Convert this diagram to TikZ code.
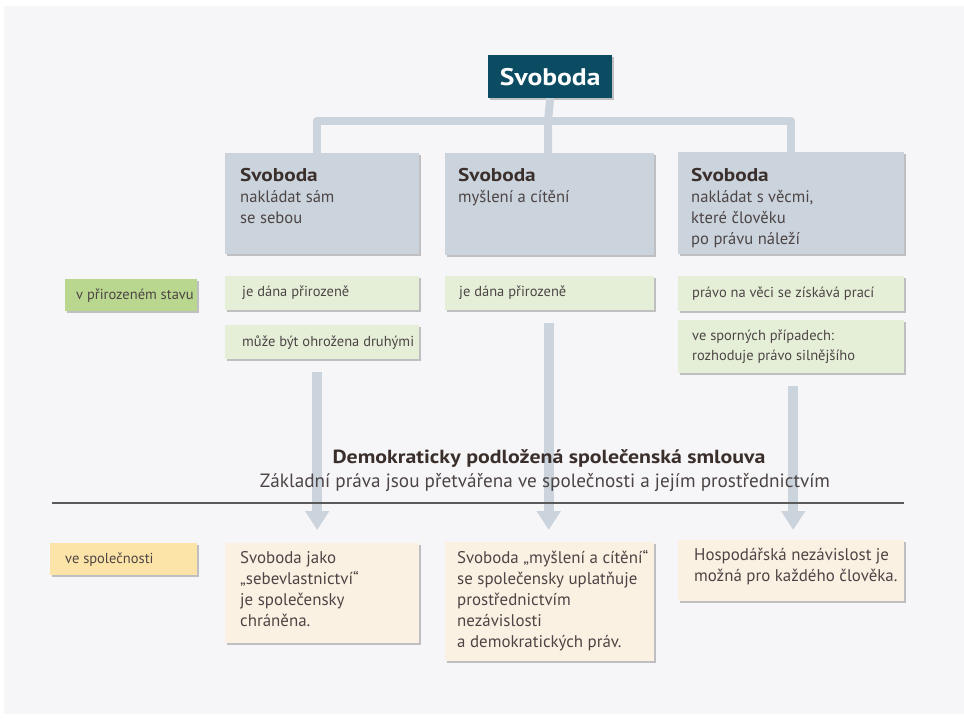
\documentclass[tikz,border=0pt]{standalone}
\usepackage{fontspec}
\setmainfont{PT Sans}
\newfontfamily\hdfont[FakeStretch=1.15]{PT Sans}
\usetikzlibrary{shadows,arrows.meta,calc}
\definecolor{bgc}{HTML}{F6F6F9}
\definecolor{teal}{HTML}{0B4C63}
\definecolor{gr}{HTML}{CBD3DD}
\definecolor{lgreen}{HTML}{E5EFD8}
\definecolor{dgreen}{HTML}{BAD78F}
\definecolor{yell}{HTML}{FCE3A8}
\definecolor{cream}{HTML}{FBF1E3}
\definecolor{tdark}{HTML}{3B2F2B}
\definecolor{tbody}{HTML}{4D4545}
\definecolor{rulec}{HTML}{5A5A5A}
\newcommand\myhd{\hdfont\fontsize{18.5}{21}\selectfont\bfseries\color{tdark}}
\begin{document}
\begin{tikzpicture}[x=1pt,y=-1pt,
  shd/.style={drop shadow={shadow xshift=1.5pt,shadow yshift=-2pt,opacity=0.22,fill=black}},
  box/.style={rectangle,draw=none,anchor=north west,inner sep=0pt,shd},
  txt/.style={inner sep=0pt,align=left,text=tbody,font={\fontsize{16.6}{21}\selectfont}},
  lbl/.style={inner sep=0pt,align=left,text=tbody,font={\fontsize{14.5}{20}\selectfont}},
  btxt/.style={inner sep=0pt,align=left,text=tbody,font={\fontsize{16.9}{21}\selectfont}},
  hd/.style={font={\hdfont\fontsize{19}{23}\selectfont\bfseries},text=tdark},
  tree/.style={draw=gr,line width=8pt,line join=round},
  bigarr/.style={draw=gr,line width=10pt,-{Triangle[width=23pt,length=19pt]}}
]
\useasboundingbox (0,0) rectangle (964,719);
\fill[white] (0,0) rectangle (964,719);
\fill[bgc] (4,6) rectangle (964,714);

% top node
\node[box,fill=teal,minimum width=124pt,minimum height=43pt,
      font={\hdfont\fontsize{24}{28}\selectfont\bfseries},text=white] (top) at (488,55) {Svoboda};

% three main boxes
\node[box,fill=gr,minimum width=194pt,minimum height=101pt] (b1) at (225,153) {};
\node[box,fill=gr,minimum width=209pt,minimum height=102pt] (b2) at (445,153) {};
\node[box,fill=gr,minimum width=226pt,minimum height=102pt] (b3) at (678,152) {};

\node[txt,anchor=north west] (t1) at ([xshift=15pt,yshift=-15pt]b1.north west)
  {{\myhd Svoboda}\\ nakládat sám\\ se sebou};
\node[txt,anchor=north west] (t2) at ([xshift=13pt,yshift=-15pt]b2.north west)
  {{\myhd Svoboda}\\ myšlení a cítění};
\node[txt,anchor=north west] (t3) at ([xshift=13pt,yshift=-16pt]b3.north west)
  {{\myhd Svoboda}\\ nakládat s věcmi,\\ které člověku\\ po právu náleží};

% tree connector
\coordinate (j) at (548,121);
\draw[tree] (top.south) -- (j) -- (j |- b2.north);
\draw[tree] (b1.north -| 317,0) |- (j) -| (b3.north -| 791,0);

% natural state row
\node[box,fill=dgreen,minimum width=132pt,minimum height=32pt] (ns) at (65,279) {};
\node[lbl,anchor=west] at ([xshift=11pt]ns.west) {v přirozeném stavu};

\node[box,fill=lgreen,minimum width=194pt,minimum height=34pt] (n1) at (225,276) {};
\node[lbl,anchor=west] at ([xshift=17pt]n1.west) {je dána přirozeně};
\node[box,fill=lgreen,minimum width=194pt,minimum height=34pt] (m1) at (225,325) {};
\node[lbl,anchor=west] at ([xshift=17pt]m1.west) {může být ohrožena druhými};

\node[box,fill=lgreen,minimum width=209pt,minimum height=34pt] (n2) at (445,276) {};
\node[lbl,anchor=west] at ([xshift=14pt]n2.west) {je dána přirozeně};

\node[box,fill=lgreen,minimum width=226pt,minimum height=35pt] (n3) at (678,276) {};
\node[lbl,anchor=west] at ([xshift=14pt]n3.west) {právo na věci se získává prací};
\node[box,fill=lgreen,minimum width=226pt,minimum height=53pt] (m3) at (678,320) {};
\node[lbl,anchor=west] at ([xshift=14pt]m3.west) {ve sporných případech:\\rozhoduje právo silnějšího};

% society row
\node[box,fill=yell,minimum width=147pt,minimum height=32pt] (sl) at (50,543) {};
\node[lbl,anchor=west] at ([xshift=15pt]sl.west) {ve společnosti};

\node[box,fill=cream,minimum width=194pt,minimum height=100pt] (s1) at (225,543) {};
\node[btxt,anchor=north west] at ([xshift=15pt,yshift=-8pt]s1.north west)
  {Svoboda jako\\„sebevlastnictví“\\je společensky\\chráněna.};
\node[box,fill=cream,minimum width=209pt,minimum height=119pt] (s2) at (445,542) {};
\node[btxt,anchor=north west] at ([xshift=12pt,yshift=-8pt]s2.north west)
  {Svoboda „myšlení a cítění“\\se společensky uplatňuje\\prostřednictvím\\nezávislosti\\a demokratických práv.};
\node[box,fill=cream,minimum width=226pt,minimum height=61pt] (s3) at (678,540) {};
\node[btxt,anchor=north west] at ([xshift=16pt,yshift=-8pt]s3.north west)
  {Hospodářská nezávislost je\\možná pro každého člověka.};

% arrows
\draw[bigarr] ([xshift=-5pt,yshift=-13pt]m1.south) -- ([xshift=-5pt,yshift=13pt]s1.north);
\draw[bigarr] ([xshift=-1pt,yshift=-13pt]n2.south) -- ([xshift=-1pt,yshift=12pt]s2.north);
\draw[bigarr] ([xshift=2pt,yshift=-13pt]m3.south) -- ([xshift=2pt,yshift=10pt]s3.north);

% contract title
\node[hd,anchor=base] (ct) at (549,463) {Demokraticky podložená společenská smlouva};
\node[anchor=base,text=tbody,font={\fontsize{19.2}{23}\selectfont}] (cs) at (545,487)
  {Základní práva jsou přetvářena ve společnosti a jejím prostřednictvím};
\coordinate (rl) at (52,503);
\coordinate (rr) at (904,503);
\draw[rulec,line width=1.2pt] (rl) -- (rr);
\end{tikzpicture}
\end{document}
